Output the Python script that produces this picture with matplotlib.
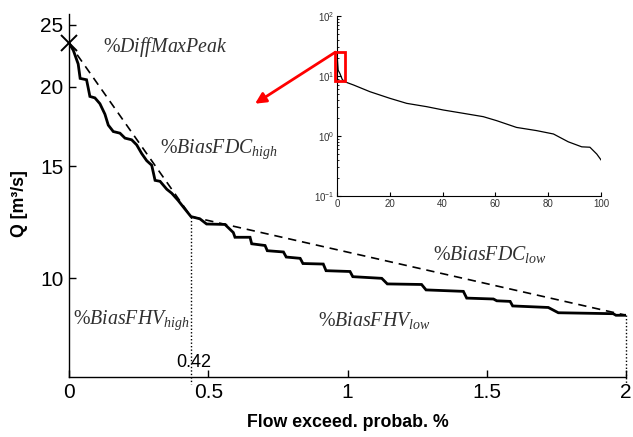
import matplotlib
matplotlib.use("Agg")
import matplotlib.pyplot as plt
from matplotlib.ticker import NullLocator, LogLocator
from matplotlib.patches import Rectangle

plt.rcParams['font.family'] = ['Liberation Sans', 'DejaVu Sans']
plt.rcParams['mathtext.fontset'] = 'custom'
plt.rcParams['mathtext.it'] = 'Liberation Serif:italic'
plt.rcParams['mathtext.rm'] = 'Liberation Serif'

# ---- data: flow duration curve (high-flow part, 0-2 % exceedance)
fdc_x = [0, 0.0155, 0.033, 0.04, 0.063, 0.069, 0.075, 0.093, 0.111, 0.129, 0.141,
         0.159, 0.183, 0.201, 0.225, 0.243, 0.261, 0.279, 0.297, 0.309, 0.327,
         0.351, 0.369, 0.392, 0.416, 0.438, 0.47, 0.494, 0.56, 0.59, 0.596, 0.65,
         0.656, 0.704, 0.712, 0.77, 0.78, 0.83, 0.84, 0.913, 0.923, 1.009, 1.019,
         1.123, 1.143, 1.266, 1.282, 1.416, 1.428, 1.524, 1.536, 1.584, 1.593,
         1.721, 1.757, 1.954, 1.964, 2.0]
fdc_q = [23.4, 22.8, 21.7, 20.6, 20.5, 19.9, 19.3, 19.2, 18.8, 18.1, 17.4,
         17.0, 16.9, 16.6, 16.5, 16.2, 15.7, 15.3, 15.05, 14.25, 14.2,
         13.8, 13.6, 13.25, 12.85, 12.5, 12.4, 12.17, 12.15, 11.8, 11.6, 11.6,
         11.33, 11.26, 11.05, 11.0, 10.8, 10.75, 10.55, 10.53, 10.28, 10.25, 10.06,
         10.0, 9.8, 9.78, 9.59, 9.54, 9.31, 9.28, 9.22, 9.2, 9.05,
         9.0, 8.83, 8.8, 8.75, 8.75]

# segment (dashed) line between peak, break point and end
seg_x = [0, 0.438, 2.0]
seg_q = [23.4, 12.5, 8.75]
break_label = "0.42"

# full flow duration curve (inset, 0-100 %)
full_x = [0, 0.44, 1.1, 2.0, 3.0, 6.2, 12.5, 20, 26.4, 34, 40.3, 47.8, 55.4,
          60.5, 68, 75.6, 82, 87.6, 92.7, 95.8, 98.4, 100]
full_q = [23.4, 12.5, 11.0, 8.75, 8.0, 7.1, 5.47, 4.25, 3.5, 3.08, 2.71, 2.39, 2.1,
          1.8, 1.39, 1.23, 1.08, 0.80, 0.66, 0.65, 0.50, 0.40]

ytick_vals = [10, 15, 20, 25]
xtick_vals = [0, 0.5, 1, 1.5, 2]
xtick_labels = ["0", "0.5", "1", "1.5", "2"]

txt_color = '#303030'

fig = plt.figure(figsize=(6.33, 4.37), dpi=100)
ax = fig.add_axes([69/633, 1-377/437, (626-69)/633, (377-14)/437])
ax.set_yscale('log')
ax.set_xlim(0, 2)
ax.set_ylim(7, 26)

ax.plot(fdc_x, fdc_q, color='black', lw=2.0, solid_joinstyle='miter')
ax.plot(seg_x, seg_q, color='black', lw=1.2, dashes=(5, 3.5))
ax.plot([seg_x[0]], [seg_q[0]], marker='x', color='black', ms=11, mew=1.4,
        clip_on=False)
ax.plot([seg_x[1], seg_x[1]], [seg_q[1], 6.83], color='black', lw=1,
        ls=(0, (1, 1.5)), clip_on=False)
ax.plot([seg_x[2], seg_x[2]], [seg_q[2], 6.83], color='black', lw=1,
        ls=(0, (1, 1.5)), clip_on=False)

for s in ['top', 'right']:
    ax.spines[s].set_visible(False)
ax.spines['left'].set_linewidth(1.0)
ax.spines['bottom'].set_linewidth(1.0)

ax.yaxis.set_minor_locator(NullLocator())
ax.set_yticks(ytick_vals, labels=[str(v) for v in ytick_vals])
ax.set_xticks(xtick_vals, labels=xtick_labels)
ax.tick_params(direction='in', length=5, width=1, labelsize=15, pad=4)
ax.tick_params(axis='y', which='minor', length=0)

ax.set_xlabel("Flow exceed. probab. %", fontsize=12.8, fontweight='bold')
ax.set_ylabel("Q [m³/s]", fontsize=12.8, fontweight='bold')
ax.xaxis.set_label_coords(0.5, -0.102)
ax.yaxis.set_label_coords(-0.074, 0.479)

ax.text(0.385, 7.16, break_label, fontsize=13, color='black',
        va='bottom', ha='left')

kw = dict(fontsize=14.3, color=txt_color, va='center', ha='left')
ax.text(0.123, 23.1, r"$\%DiffMaxPeak$", **kw)
ax.text(0.325, 15.95, r"$\%BiasFDC_{high}$", **kw)
ax.text(0.015, 8.6, r"$\%BiasFHV_{high}$", **kw)
ax.text(1.307, 10.9, r"$\%BiasFDC_{low}$", **kw)
ax.text(0.894, 8.6, r"$\%BiasFHV_{low}$", **kw)

# ---- inset
axins = fig.add_axes([337/633, 1-196/437, (601-337)/633, (196-16)/437])
axins.set_yscale('log')
axins.set_xlim(0, 100)
axins.set_ylim(0.1, 100)
axins.plot(full_x, full_q, color='black', lw=0.9)
for s in ['top', 'right']:
    axins.spines[s].set_visible(False)
axins.set_xticks([0, 20, 40, 60, 80, 100])
axins.yaxis.set_major_locator(LogLocator(base=10, numticks=5))
axins.tick_params(which='both', direction='in', labelsize=7, labelcolor='#333333',
                  pad=2)
axins.tick_params(which='major', length=3)
axins.tick_params(which='minor', length=1.5)
axins.patch.set_alpha(0)

axins.add_patch(Rectangle((-0.6, 8.3), 3.8, 25 - 8.3, fill=False, edgecolor='red',
                          lw=2, clip_on=False, zorder=5))

ax.annotate('', xy=(0.668, 18.8), xycoords='data',
            xytext=(-0.6, 25), textcoords=axins.transData,
            arrowprops=dict(arrowstyle='-|>', color='red', lw=2,
                            mutation_scale=16, shrinkA=0, shrinkB=0))

fig.savefig("out.png", dpi=100)
